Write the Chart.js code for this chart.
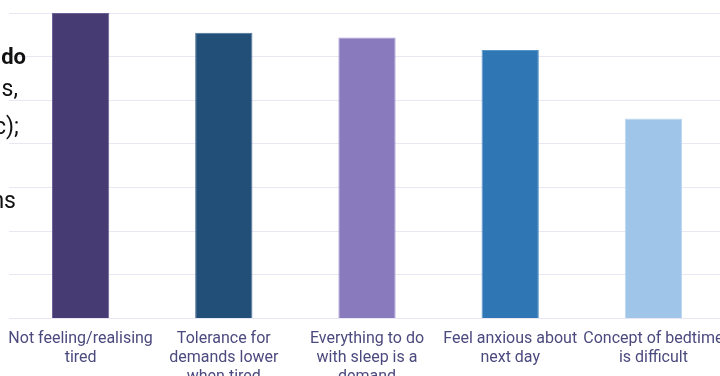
<!DOCTYPE html>
<html>
<head>
<meta charset="utf-8">
<script src="https://cdn.jsdelivr.net/npm/chart.js@4/dist/chart.umd.min.js"></script>
<style>
  html, body { margin: 0; padding: 0; background: #fff; overflow: hidden; width: 720px; height: 376px; }
  #wrap { position: absolute; left: 0; top: 0; width: 740px; height: 420px; }
  .side { position: absolute; right: 0; font-family: Roboto, "Liberation Sans", sans-serif; color: #111; white-space: nowrap; text-align: right; }
  #sideText { position: absolute; left: 0; top: 0; width: 720px; height: 376px; pointer-events: none; }
</style>
</head>
<body>
<div id="wrap"><canvas id="c" width="740" height="420"></canvas></div>
<div id="sideText"></div>
<script>
// ---- data ----
const categories = [
  ["Not feeling/realising", "tired"],
  ["Tolerance for", "demands lower", "when tired"],
  ["Everything to do", "with sleep is a", "demand"],
  ["Feel anxious about", "next day"],
  ["Concept of bedtime", "is difficult"]
];
const values = [70, 65.5, 64.4, 61.5, 45.8];
const barColors = ["#473b73", "#224f78", "#897abd", "#2f77b4", "#9fc5e8"];
const barEdges  = ["#6a5f94", "#4a7096", "#a99ad6", "#5a95c8", "#bcd7ef"];
const yMin = 0, yMax = 70, yStep = 10;
// fragments of the cropped text panel on the left
const sideLines = [
  { text: "do", bold: true, right: 694, top: 44, size: 22 },
  { text: "s,", bold: false, right: 702, top: 75, size: 23 },
  { text: "c);", bold: false, right: 701, top: 113, size: 23 },
  { text: "ns", bold: false, right: 704, top: 187, size: 23 }
];

// ---- side text ----
const side = document.getElementById('sideText');
sideLines.forEach(l => {
  const d = document.createElement('div');
  d.className = 'side';
  d.textContent = l.text;
  d.style.right = l.right + 'px';
  d.style.top = l.top + 'px';
  d.style.fontSize = l.size + 'px';
  d.style.fontWeight = l.bold ? '700' : '400';
  side.appendChild(d);
});

// ---- chart ----
new Chart(document.getElementById('c'), {
  type: 'bar',
  data: {
    labels: categories,
    datasets: [{
      data: values,
      backgroundColor: barColors,
      borderColor: barEdges,
      borderWidth: 1,
      categoryPercentage: 0.8,
      barPercentage: 0.5
    }]
  },
  options: {
    responsive: false,
    animation: false,
    devicePixelRatio: 1,
    layout: { padding: { left: 9, right: 15, top: 13, bottom: 22 } },
    plugins: { legend: { display: false }, tooltip: { enabled: false } },
    scales: {
      x: {
        grid: { display: false, drawTicks: false },
        border: { display: false },
        afterFit: (s) => { s.paddingLeft = 0; s.paddingRight = 0; },
        ticks: {
          color: '#4b4a7e',
          font: { family: 'Roboto', size: 16, lineHeight: 1.2 },
          padding: 11,
          maxRotation: 0,
          autoSkip: false
        }
      },
      y: {
        min: yMin, max: yMax,
        ticks: { display: false, stepSize: yStep },
        grid: { color: '#e9e7f3', lineWidth: 1, drawTicks: false },
        border: { display: false }
      }
    }
  }
});
</script>
</body>
</html>
